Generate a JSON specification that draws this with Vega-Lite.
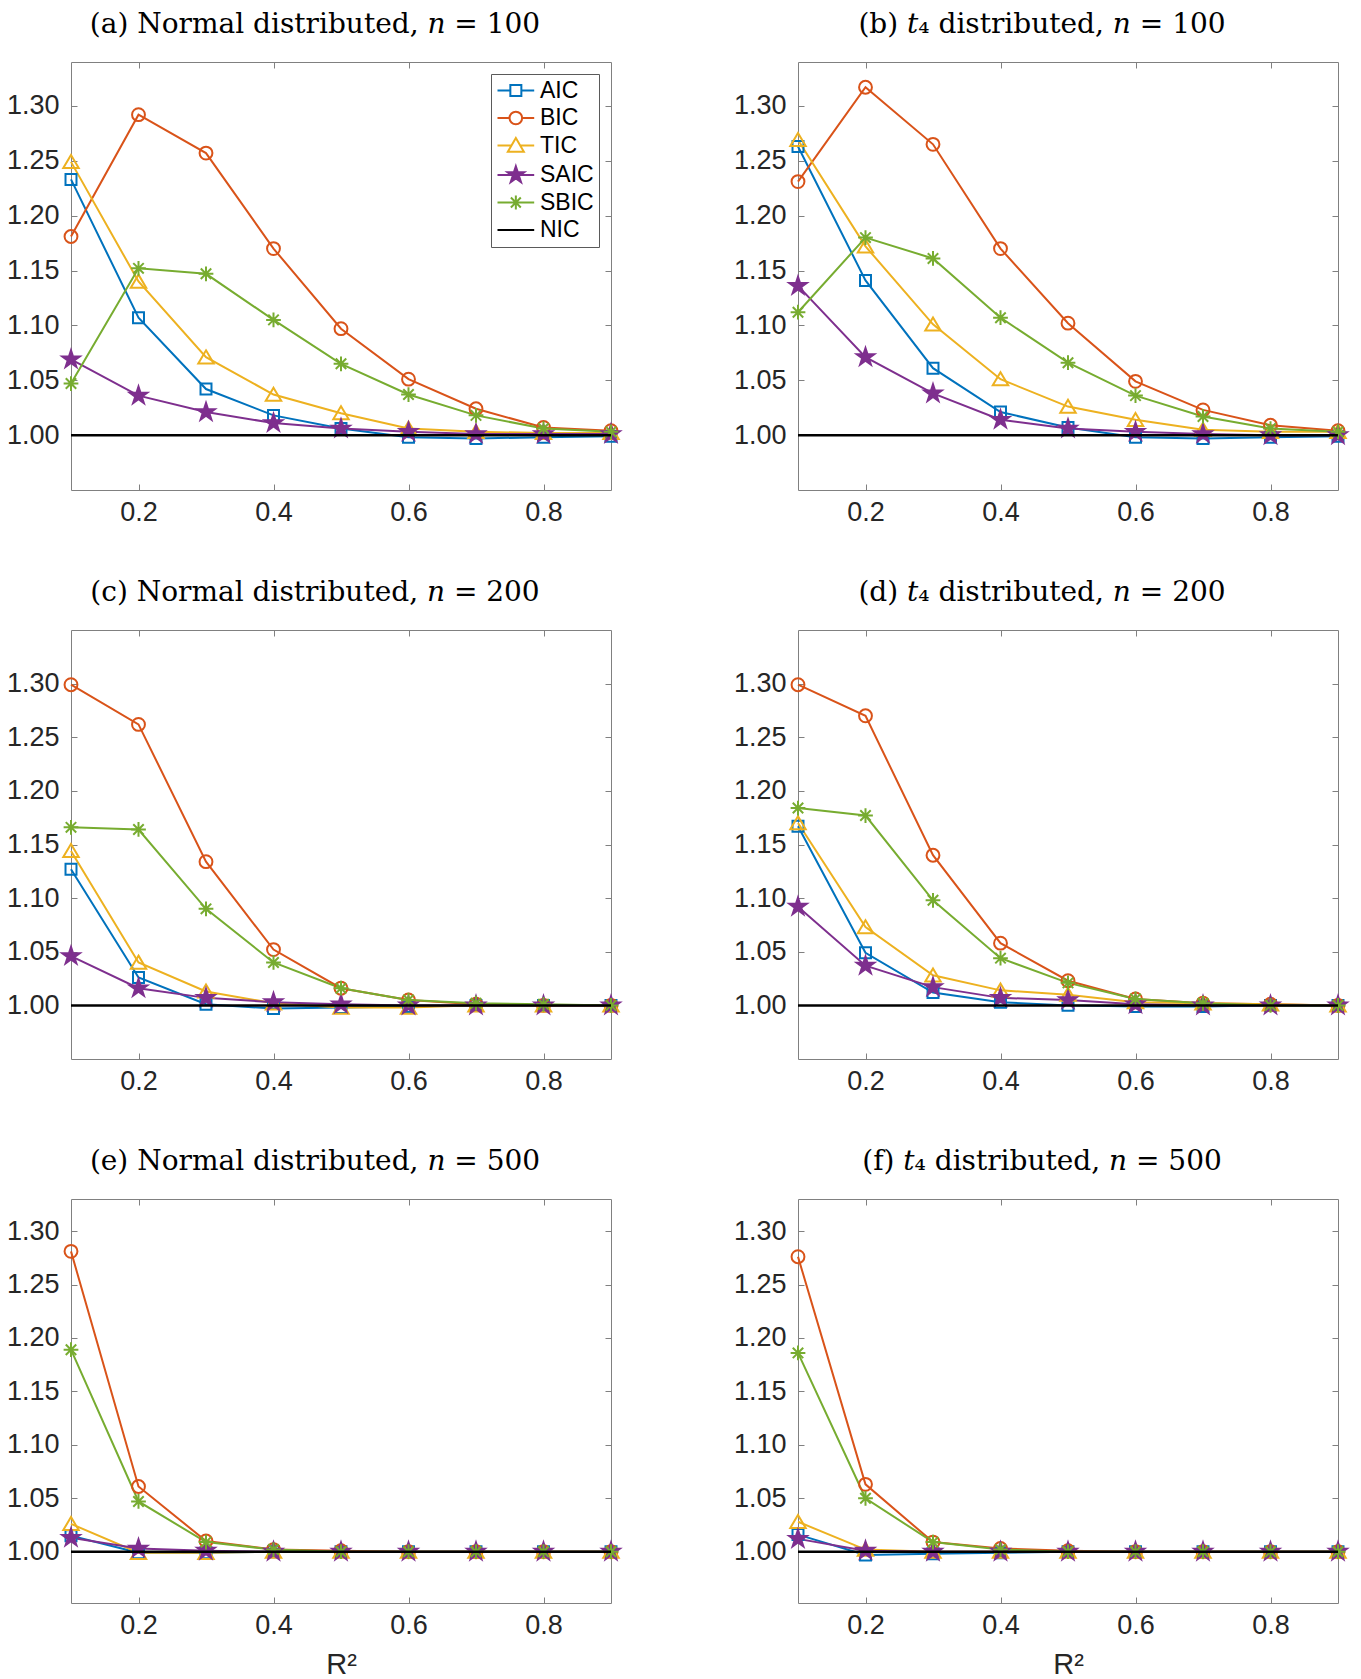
{
"$schema": "https://vega.github.io/schema/vega-lite/v6.json",
"padding": {"left": 5, "top": 10, "right": 5, "bottom": 5},
"background": "white",
"datasets": {"d": [
{"p":"a","x":0.1,"AIC":1.233,"BIC":1.181,"TIC":1.249,"SAIC":1.069,"SBIC":1.047,"NIC":1},
{"p":"a","x":0.2,"AIC":1.107,"BIC":1.292,"TIC":1.140,"SAIC":1.036,"SBIC":1.152,"NIC":1},
{"p":"a","x":0.3,"AIC":1.042,"BIC":1.257,"TIC":1.071,"SAIC":1.021,"SBIC":1.147,"NIC":1},
{"p":"a","x":0.4,"AIC":1.018,"BIC":1.170,"TIC":1.037,"SAIC":1.011,"SBIC":1.105,"NIC":1},
{"p":"a","x":0.5,"AIC":1.006,"BIC":1.097,"TIC":1.020,"SAIC":1.006,"SBIC":1.065,"NIC":1},
{"p":"a","x":0.6,"AIC":0.998,"BIC":1.051,"TIC":1.006,"SAIC":1.003,"SBIC":1.037,"NIC":1},
{"p":"a","x":0.7,"AIC":0.997,"BIC":1.024,"TIC":1.003,"SAIC":1.001,"SBIC":1.018,"NIC":1},
{"p":"a","x":0.8,"AIC":0.998,"BIC":1.007,"TIC":1.002,"SAIC":1.001,"SBIC":1.006,"NIC":1},
{"p":"a","x":0.9,"AIC":0.999,"BIC":1.004,"TIC":1.002,"SAIC":1.001,"SBIC":1.003,"NIC":1},
{"p":"b","x":0.1,"AIC":1.263,"BIC":1.231,"TIC":1.269,"SAIC":1.136,"SBIC":1.112,"NIC":1},
{"p":"b","x":0.2,"AIC":1.141,"BIC":1.317,"TIC":1.172,"SAIC":1.071,"SBIC":1.180,"NIC":1},
{"p":"b","x":0.3,"AIC":1.061,"BIC":1.265,"TIC":1.101,"SAIC":1.038,"SBIC":1.161,"NIC":1},
{"p":"b","x":0.4,"AIC":1.021,"BIC":1.170,"TIC":1.051,"SAIC":1.014,"SBIC":1.107,"NIC":1},
{"p":"b","x":0.5,"AIC":1.007,"BIC":1.102,"TIC":1.026,"SAIC":1.006,"SBIC":1.066,"NIC":1},
{"p":"b","x":0.6,"AIC":0.998,"BIC":1.049,"TIC":1.014,"SAIC":1.003,"SBIC":1.036,"NIC":1},
{"p":"b","x":0.7,"AIC":0.997,"BIC":1.023,"TIC":1.005,"SAIC":1.001,"SBIC":1.017,"NIC":1},
{"p":"b","x":0.8,"AIC":0.998,"BIC":1.009,"TIC":1.003,"SAIC":1.000,"SBIC":1.006,"NIC":1},
{"p":"b","x":0.9,"AIC":0.999,"BIC":1.004,"TIC":1.003,"SAIC":1.000,"SBIC":1.003,"NIC":1},
{"p":"c","x":0.1,"AIC":1.127,"BIC":1.299,"TIC":1.144,"SAIC":1.046,"SBIC":1.166,"NIC":1},
{"p":"c","x":0.2,"AIC":1.026,"BIC":1.262,"TIC":1.040,"SAIC":1.016,"SBIC":1.164,"NIC":1},
{"p":"c","x":0.3,"AIC":1.001,"BIC":1.134,"TIC":1.013,"SAIC":1.007,"SBIC":1.090,"NIC":1},
{"p":"c","x":0.4,"AIC":0.997,"BIC":1.052,"TIC":1.002,"SAIC":1.003,"SBIC":1.040,"NIC":1},
{"p":"c","x":0.5,"AIC":0.998,"BIC":1.016,"TIC":0.998,"SAIC":1.001,"SBIC":1.016,"NIC":1},
{"p":"c","x":0.6,"AIC":0.999,"BIC":1.005,"TIC":0.998,"SAIC":1.000,"SBIC":1.005,"NIC":1},
{"p":"c","x":0.7,"AIC":1.000,"BIC":1.001,"TIC":1.000,"SAIC":1.000,"SBIC":1.002,"NIC":1},
{"p":"c","x":0.8,"AIC":1.000,"BIC":1.000,"TIC":1.000,"SAIC":1.000,"SBIC":1.001,"NIC":1},
{"p":"c","x":0.9,"AIC":1.000,"BIC":1.000,"TIC":1.000,"SAIC":1.000,"SBIC":1.000,"NIC":1},
{"p":"d","x":0.1,"AIC":1.167,"BIC":1.299,"TIC":1.170,"SAIC":1.092,"SBIC":1.184,"NIC":1},
{"p":"d","x":0.2,"AIC":1.049,"BIC":1.270,"TIC":1.073,"SAIC":1.037,"SBIC":1.177,"NIC":1},
{"p":"d","x":0.3,"AIC":1.012,"BIC":1.140,"TIC":1.028,"SAIC":1.017,"SBIC":1.098,"NIC":1},
{"p":"d","x":0.4,"AIC":1.003,"BIC":1.058,"TIC":1.014,"SAIC":1.007,"SBIC":1.044,"NIC":1},
{"p":"d","x":0.5,"AIC":1.000,"BIC":1.023,"TIC":1.010,"SAIC":1.005,"SBIC":1.021,"NIC":1},
{"p":"d","x":0.6,"AIC":0.999,"BIC":1.006,"TIC":1.003,"SAIC":1.001,"SBIC":1.006,"NIC":1},
{"p":"d","x":0.7,"AIC":0.999,"BIC":1.002,"TIC":1.002,"SAIC":1.000,"SBIC":1.002,"NIC":1},
{"p":"d","x":0.8,"AIC":1.000,"BIC":1.001,"TIC":1.001,"SAIC":1.000,"SBIC":1.000,"NIC":1},
{"p":"d","x":0.9,"AIC":1.000,"BIC":1.000,"TIC":1.000,"SAIC":1.000,"SBIC":1.000,"NIC":1},
{"p":"e","x":0.1,"AIC":1.015,"BIC":1.281,"TIC":1.026,"SAIC":1.013,"SBIC":1.189,"NIC":1},
{"p":"e","x":0.2,"AIC":0.999,"BIC":1.061,"TIC":0.999,"SAIC":1.003,"SBIC":1.047,"NIC":1},
{"p":"e","x":0.3,"AIC":0.999,"BIC":1.010,"TIC":0.999,"SAIC":1.001,"SBIC":1.009,"NIC":1},
{"p":"e","x":0.4,"AIC":1.000,"BIC":1.002,"TIC":1.000,"SAIC":1.000,"SBIC":1.002,"NIC":1},
{"p":"e","x":0.5,"AIC":1.000,"BIC":1.001,"TIC":1.000,"SAIC":1.000,"SBIC":1.000,"NIC":1},
{"p":"e","x":0.6,"AIC":1.000,"BIC":1.000,"TIC":1.000,"SAIC":1.000,"SBIC":1.000,"NIC":1},
{"p":"e","x":0.7,"AIC":1.000,"BIC":1.000,"TIC":1.000,"SAIC":1.000,"SBIC":1.000,"NIC":1},
{"p":"e","x":0.8,"AIC":1.000,"BIC":1.000,"TIC":1.000,"SAIC":1.000,"SBIC":1.000,"NIC":1},
{"p":"e","x":0.9,"AIC":1.000,"BIC":1.000,"TIC":1.000,"SAIC":1.000,"SBIC":1.000,"NIC":1},
{"p":"f","x":0.1,"AIC":1.016,"BIC":1.276,"TIC":1.028,"SAIC":1.012,"SBIC":1.186,"NIC":1},
{"p":"f","x":0.2,"AIC":0.997,"BIC":1.063,"TIC":1.002,"SAIC":1.001,"SBIC":1.050,"NIC":1},
{"p":"f","x":0.3,"AIC":0.998,"BIC":1.009,"TIC":1.000,"SAIC":1.000,"SBIC":1.009,"NIC":1},
{"p":"f","x":0.4,"AIC":0.999,"BIC":1.003,"TIC":1.000,"SAIC":1.000,"SBIC":1.002,"NIC":1},
{"p":"f","x":0.5,"AIC":1.000,"BIC":1.001,"TIC":1.000,"SAIC":1.000,"SBIC":1.000,"NIC":1},
{"p":"f","x":0.6,"AIC":1.000,"BIC":1.000,"TIC":1.000,"SAIC":1.000,"SBIC":1.000,"NIC":1},
{"p":"f","x":0.7,"AIC":1.000,"BIC":1.000,"TIC":1.000,"SAIC":1.000,"SBIC":1.000,"NIC":1},
{"p":"f","x":0.8,"AIC":1.000,"BIC":1.000,"TIC":1.000,"SAIC":1.000,"SBIC":1.000,"NIC":1},
{"p":"f","x":0.9,"AIC":1.000,"BIC":1.000,"TIC":1.000,"SAIC":1.000,"SBIC":1.000,"NIC":1}
]},
"data": {"name": "d"},
"config": {
  "view": {"stroke": "#808080", "strokeWidth": 1},
  "axis": {"grid": false, "domain": false, "tickSize": -6, "tickColor": "#808080", "tickWidth": 1, "labelFont": "Liberation Sans", "labelFontSize": 27, "labelColor": "#262626", "labelFlush": false, "labelOverlap": false, "titleFont": "Liberation Sans", "titleFontSize": 29, "titleFontWeight": "normal", "titleColor": "#262626", "titlePadding": 12},
  "axisX": {"labelPadding": 15},
  "axisY": {"labelPadding": 18},
  "axisTop": {"labels": false},
  "axisRight": {"labels": false},
  "title": {"font": "DejaVu Serif", "fontSize": 28, "fontWeight": "normal", "color": "#000000", "offset": 23, "anchor": "middle"}
},
"spacing": 52,
"resolve": {"scale": {"x": "independent", "y": "independent", "stroke": "independent", "shape": "independent", "fill": "independent"}, "legend": {"stroke": "independent"}},
"vconcat": [
{"spacing": 107,
 "resolve": {"scale": {"x": "independent", "y": "independent", "stroke": "independent", "shape": "independent", "fill": "independent"}, "legend": {"stroke": "independent"}},
 "hconcat": [
 {"width": 540, "height": 428,
  "title": {"text": "(a) Normal distributed, 𝑛 = 100", "dx": -26},
  "transform": [{"filter": "datum.p == 'a'"}, {"fold": ["AIC","BIC","TIC","SAIC","SBIC","NIC"], "as": ["s","y"]}],
  "layer": [
   {"transform": [{"filter": "datum.s != 'NIC'"}],
    "mark": {"type": "line", "strokeWidth": 2},
    "encoding": {
     "x": {"field": "x", "type": "quantitative", "scale": {"domain": [0.1, 0.9], "nice": false, "zero": false}, "axis": {"orient": "bottom", "values": [0.2,0.4,0.6,0.8], "format": ".1f", "title": null}},
     "y": {"field": "y", "type": "quantitative", "scale": {"domain": [0.95, 1.34], "nice": false, "zero": false}, "axis": {"orient": "left", "values": [1,1.05,1.1,1.15,1.2,1.25,1.3], "format": ".2f", "title": null}},
     "stroke": {"field": "s", "type": "nominal", "scale": {"domain": ["AIC","BIC","TIC","SAIC","SBIC","NIC"], "range": ["#0072BD","#D95319","#EDB120","#7E2F8E","#77AC30","#000000"]},
      "legend": {"title": null, "orient": "top-right", "offset": 12, "labelFont": "Liberation Sans", "labelFontSize": 23, "labelColor": "#000000", "labelExpr": "datum.label + ' '", "symbolSize": 400, "symbolStrokeWidth": 2, "labelOffset": 21, "rowPadding": 3.5, "padding": 5, "strokeColor": "#5a5a5a", "fillColor": "#ffffff",
       "encode": {"symbols": {"update": {
        "shape": {"signal": "datum.value == 'AIC' ? 'M-1,0H0.285M1.385,0H2.67M0.285,-0.55H1.385V0.55H0.285Z' : datum.value == 'BIC' ? 'M-1,0H0.205M1.465,0H2.67M1.465,0A0.63,0.63 0 1,1 0.205,0A0.63,0.63 0 1,1 1.465,0Z' : datum.value == 'TIC' ? 'M-1,0H0.397M1.273,0H2.67M0.835,-0.75L1.635,0.62H0.035Z' : datum.value == 'SAIC' ? 'M-1,0H2.67M0.835,-0.88L1.033,-0.272L1.672,-0.272L1.154,0.104L1.352,0.712L0.835,0.336L0.318,0.712L0.516,0.104L-0.002,-0.272L0.637,-0.272Z' : datum.value == 'SBIC' ? 'M-1,0H2.67M0.835,-0.7V0.7M0.34,-0.495L1.33,0.495M0.34,0.495L1.33,-0.495' : 'M-1,0H2.67'"},
        "fill": {"signal": "datum.value == 'SAIC' ? '#7E2F8E' : 'transparent'"},
        "size": {"value": 400},
        "strokeWidth": {"value": 2},
        "opacity": {"value": 1}
       }}}}}
    }},
   {"transform": [{"filter": "datum.s != 'NIC'"}],
    "mark": {"type": "point", "filled": false, "opacity": 1, "strokeWidth": 2, "size": 294},
    "encoding": {
     "x": {"field": "x", "type": "quantitative", "scale": {"domain": [0.1, 0.9], "nice": false, "zero": false}, "axis": null},
     "y": {"field": "y", "type": "quantitative", "scale": {"domain": [0.95, 1.34], "nice": false, "zero": false}, "axis": null},
     "stroke": {"field": "s", "type": "nominal", "legend": null},
     "shape": {"field": "s", "type": "nominal", "scale": {"domain": ["AIC","BIC","TIC","SAIC","SBIC"], "range": ["M-0.64,-0.64H0.64V0.64H-0.64Z","M0.75,0A0.75,0.75 0 1,1 -0.75,0A0.75,0.75 0 1,1 0.75,0Z","M0,-0.8L0.9,0.72H-0.9Z","M0,-1.07L0.24,-0.331L1.018,-0.331L0.388,0.126L0.629,0.866L0,0.409L-0.629,0.866L-0.388,0.126L-1.018,-0.331L-0.24,-0.331Z","M-0.86,0H0.86M0,-0.86V0.86M-0.61,-0.61L0.61,0.61M-0.61,0.61L0.61,-0.61"]}, "legend": null},
     "fill": {"field": "s", "type": "nominal", "scale": {"domain": ["AIC","BIC","TIC","SAIC","SBIC"], "range": ["transparent","transparent","transparent","#7E2F8E","transparent"]}, "legend": null}
    }},
   {"transform": [{"filter": "datum.s == 'NIC'"}],
    "mark": {"type": "line", "strokeWidth": 2.5, "color": "#000000"},
    "encoding": {
     "x": {"field": "x", "type": "quantitative", "scale": {"domain": [0.1, 0.9], "nice": false, "zero": false}, "axis": {"orient": "top", "values": [0.2,0.4,0.6,0.8], "labels": false, "title": null}},
     "y": {"field": "y", "type": "quantitative", "scale": {"domain": [0.95, 1.34], "nice": false, "zero": false}, "axis": {"orient": "right", "values": [1,1.05,1.1,1.15,1.2,1.25,1.3], "labels": false, "title": null}}
    }}
  ]},
 {"width": 540, "height": 428,
  "title": {"text": "(b) 𝑡₄ distributed, 𝑛 = 100", "dx": -26},
  "transform": [{"filter": "datum.p == 'b'"}, {"fold": ["AIC","BIC","TIC","SAIC","SBIC","NIC"], "as": ["s","y"]}],
  "layer": [
   {"transform": [{"filter": "datum.s != 'NIC'"}],
    "mark": {"type": "line", "strokeWidth": 2},
    "encoding": {
     "x": {"field": "x", "type": "quantitative", "scale": {"domain": [0.1, 0.9], "nice": false, "zero": false}, "axis": {"orient": "bottom", "values": [0.2,0.4,0.6,0.8], "format": ".1f", "title": null}},
     "y": {"field": "y", "type": "quantitative", "scale": {"domain": [0.95, 1.34], "nice": false, "zero": false}, "axis": {"orient": "left", "values": [1,1.05,1.1,1.15,1.2,1.25,1.3], "format": ".2f", "title": null}},
     "stroke": {"field": "s", "type": "nominal", "scale": {"domain": ["AIC","BIC","TIC","SAIC","SBIC","NIC"], "range": ["#0072BD","#D95319","#EDB120","#7E2F8E","#77AC30","#000000"]}, "legend": null}
    }},
   {"transform": [{"filter": "datum.s != 'NIC'"}],
    "mark": {"type": "point", "filled": false, "opacity": 1, "strokeWidth": 2, "size": 294},
    "encoding": {
     "x": {"field": "x", "type": "quantitative", "scale": {"domain": [0.1, 0.9], "nice": false, "zero": false}, "axis": null},
     "y": {"field": "y", "type": "quantitative", "scale": {"domain": [0.95, 1.34], "nice": false, "zero": false}, "axis": null},
     "stroke": {"field": "s", "type": "nominal", "legend": null},
     "shape": {"field": "s", "type": "nominal", "scale": {"domain": ["AIC","BIC","TIC","SAIC","SBIC"], "range": ["M-0.64,-0.64H0.64V0.64H-0.64Z","M0.75,0A0.75,0.75 0 1,1 -0.75,0A0.75,0.75 0 1,1 0.75,0Z","M0,-0.8L0.9,0.72H-0.9Z","M0,-1.07L0.24,-0.331L1.018,-0.331L0.388,0.126L0.629,0.866L0,0.409L-0.629,0.866L-0.388,0.126L-1.018,-0.331L-0.24,-0.331Z","M-0.86,0H0.86M0,-0.86V0.86M-0.61,-0.61L0.61,0.61M-0.61,0.61L0.61,-0.61"]}, "legend": null},
     "fill": {"field": "s", "type": "nominal", "scale": {"domain": ["AIC","BIC","TIC","SAIC","SBIC"], "range": ["transparent","transparent","transparent","#7E2F8E","transparent"]}, "legend": null}
    }},
   {"transform": [{"filter": "datum.s == 'NIC'"}],
    "mark": {"type": "line", "strokeWidth": 2.5, "color": "#000000"},
    "encoding": {
     "x": {"field": "x", "type": "quantitative", "scale": {"domain": [0.1, 0.9], "nice": false, "zero": false}, "axis": {"orient": "top", "values": [0.2,0.4,0.6,0.8], "labels": false, "title": null}},
     "y": {"field": "y", "type": "quantitative", "scale": {"domain": [0.95, 1.34], "nice": false, "zero": false}, "axis": {"orient": "right", "values": [1,1.05,1.1,1.15,1.2,1.25,1.3], "labels": false, "title": null}}
    }}
  ]}
 ]},
{"spacing": 107,
 "resolve": {"scale": {"x": "independent", "y": "independent", "stroke": "independent", "shape": "independent", "fill": "independent"}, "legend": {"stroke": "independent"}},
 "hconcat": [
 {"width": 540, "height": 429,
  "title": {"text": "(c) Normal distributed, 𝑛 = 200", "dx": -26},
  "transform": [{"filter": "datum.p == 'c'"}, {"fold": ["AIC","BIC","TIC","SAIC","SBIC","NIC"], "as": ["s","y"]}],
  "layer": [
   {"transform": [{"filter": "datum.s != 'NIC'"}],
    "mark": {"type": "line", "strokeWidth": 2},
    "encoding": {
     "x": {"field": "x", "type": "quantitative", "scale": {"domain": [0.1, 0.9], "nice": false, "zero": false}, "axis": {"orient": "bottom", "values": [0.2,0.4,0.6,0.8], "format": ".1f", "title": null}},
     "y": {"field": "y", "type": "quantitative", "scale": {"domain": [0.95, 1.35], "nice": false, "zero": false}, "axis": {"orient": "left", "values": [1,1.05,1.1,1.15,1.2,1.25,1.3], "format": ".2f", "title": null}},
     "stroke": {"field": "s", "type": "nominal", "scale": {"domain": ["AIC","BIC","TIC","SAIC","SBIC","NIC"], "range": ["#0072BD","#D95319","#EDB120","#7E2F8E","#77AC30","#000000"]}, "legend": null}
    }},
   {"transform": [{"filter": "datum.s != 'NIC'"}],
    "mark": {"type": "point", "filled": false, "opacity": 1, "strokeWidth": 2, "size": 294},
    "encoding": {
     "x": {"field": "x", "type": "quantitative", "scale": {"domain": [0.1, 0.9], "nice": false, "zero": false}, "axis": null},
     "y": {"field": "y", "type": "quantitative", "scale": {"domain": [0.95, 1.35], "nice": false, "zero": false}, "axis": null},
     "stroke": {"field": "s", "type": "nominal", "legend": null},
     "shape": {"field": "s", "type": "nominal", "scale": {"domain": ["AIC","BIC","TIC","SAIC","SBIC"], "range": ["M-0.64,-0.64H0.64V0.64H-0.64Z","M0.75,0A0.75,0.75 0 1,1 -0.75,0A0.75,0.75 0 1,1 0.75,0Z","M0,-0.8L0.9,0.72H-0.9Z","M0,-1.07L0.24,-0.331L1.018,-0.331L0.388,0.126L0.629,0.866L0,0.409L-0.629,0.866L-0.388,0.126L-1.018,-0.331L-0.24,-0.331Z","M-0.86,0H0.86M0,-0.86V0.86M-0.61,-0.61L0.61,0.61M-0.61,0.61L0.61,-0.61"]}, "legend": null},
     "fill": {"field": "s", "type": "nominal", "scale": {"domain": ["AIC","BIC","TIC","SAIC","SBIC"], "range": ["transparent","transparent","transparent","#7E2F8E","transparent"]}, "legend": null}
    }},
   {"transform": [{"filter": "datum.s == 'NIC'"}],
    "mark": {"type": "line", "strokeWidth": 2.5, "color": "#000000"},
    "encoding": {
     "x": {"field": "x", "type": "quantitative", "scale": {"domain": [0.1, 0.9], "nice": false, "zero": false}, "axis": {"orient": "top", "values": [0.2,0.4,0.6,0.8], "labels": false, "title": null}},
     "y": {"field": "y", "type": "quantitative", "scale": {"domain": [0.95, 1.35], "nice": false, "zero": false}, "axis": {"orient": "right", "values": [1,1.05,1.1,1.15,1.2,1.25,1.3], "labels": false, "title": null}}
    }}
  ]},
 {"width": 540, "height": 429,
  "title": {"text": "(d) 𝑡₄ distributed, 𝑛 = 200", "dx": -26},
  "transform": [{"filter": "datum.p == 'd'"}, {"fold": ["AIC","BIC","TIC","SAIC","SBIC","NIC"], "as": ["s","y"]}],
  "layer": [
   {"transform": [{"filter": "datum.s != 'NIC'"}],
    "mark": {"type": "line", "strokeWidth": 2},
    "encoding": {
     "x": {"field": "x", "type": "quantitative", "scale": {"domain": [0.1, 0.9], "nice": false, "zero": false}, "axis": {"orient": "bottom", "values": [0.2,0.4,0.6,0.8], "format": ".1f", "title": null}},
     "y": {"field": "y", "type": "quantitative", "scale": {"domain": [0.95, 1.35], "nice": false, "zero": false}, "axis": {"orient": "left", "values": [1,1.05,1.1,1.15,1.2,1.25,1.3], "format": ".2f", "title": null}},
     "stroke": {"field": "s", "type": "nominal", "scale": {"domain": ["AIC","BIC","TIC","SAIC","SBIC","NIC"], "range": ["#0072BD","#D95319","#EDB120","#7E2F8E","#77AC30","#000000"]}, "legend": null}
    }},
   {"transform": [{"filter": "datum.s != 'NIC'"}],
    "mark": {"type": "point", "filled": false, "opacity": 1, "strokeWidth": 2, "size": 294},
    "encoding": {
     "x": {"field": "x", "type": "quantitative", "scale": {"domain": [0.1, 0.9], "nice": false, "zero": false}, "axis": null},
     "y": {"field": "y", "type": "quantitative", "scale": {"domain": [0.95, 1.35], "nice": false, "zero": false}, "axis": null},
     "stroke": {"field": "s", "type": "nominal", "legend": null},
     "shape": {"field": "s", "type": "nominal", "scale": {"domain": ["AIC","BIC","TIC","SAIC","SBIC"], "range": ["M-0.64,-0.64H0.64V0.64H-0.64Z","M0.75,0A0.75,0.75 0 1,1 -0.75,0A0.75,0.75 0 1,1 0.75,0Z","M0,-0.8L0.9,0.72H-0.9Z","M0,-1.07L0.24,-0.331L1.018,-0.331L0.388,0.126L0.629,0.866L0,0.409L-0.629,0.866L-0.388,0.126L-1.018,-0.331L-0.24,-0.331Z","M-0.86,0H0.86M0,-0.86V0.86M-0.61,-0.61L0.61,0.61M-0.61,0.61L0.61,-0.61"]}, "legend": null},
     "fill": {"field": "s", "type": "nominal", "scale": {"domain": ["AIC","BIC","TIC","SAIC","SBIC"], "range": ["transparent","transparent","transparent","#7E2F8E","transparent"]}, "legend": null}
    }},
   {"transform": [{"filter": "datum.s == 'NIC'"}],
    "mark": {"type": "line", "strokeWidth": 2.5, "color": "#000000"},
    "encoding": {
     "x": {"field": "x", "type": "quantitative", "scale": {"domain": [0.1, 0.9], "nice": false, "zero": false}, "axis": {"orient": "top", "values": [0.2,0.4,0.6,0.8], "labels": false, "title": null}},
     "y": {"field": "y", "type": "quantitative", "scale": {"domain": [0.95, 1.35], "nice": false, "zero": false}, "axis": {"orient": "right", "values": [1,1.05,1.1,1.15,1.2,1.25,1.3], "labels": false, "title": null}}
    }}
  ]}
 ]},
{"spacing": 107,
 "resolve": {"scale": {"x": "independent", "y": "independent", "stroke": "independent", "shape": "independent", "fill": "independent"}, "legend": {"stroke": "independent"}},
 "hconcat": [
 {"width": 540, "height": 404,
  "title": {"text": "(e) Normal distributed, 𝑛 = 500", "dx": -26},
  "transform": [{"filter": "datum.p == 'e'"}, {"fold": ["AIC","BIC","TIC","SAIC","SBIC","NIC"], "as": ["s","y"]}],
  "layer": [
   {"transform": [{"filter": "datum.s != 'NIC'"}],
    "mark": {"type": "line", "strokeWidth": 2},
    "encoding": {
     "x": {"field": "x", "type": "quantitative", "scale": {"domain": [0.1, 0.9], "nice": false, "zero": false}, "axis": {"orient": "bottom", "values": [0.2,0.4,0.6,0.8], "format": ".1f", "title": "R²"}},
     "y": {"field": "y", "type": "quantitative", "scale": {"domain": [0.952, 1.33], "nice": false, "zero": false}, "axis": {"orient": "left", "values": [1,1.05,1.1,1.15,1.2,1.25,1.3], "format": ".2f", "title": null}},
     "stroke": {"field": "s", "type": "nominal", "scale": {"domain": ["AIC","BIC","TIC","SAIC","SBIC","NIC"], "range": ["#0072BD","#D95319","#EDB120","#7E2F8E","#77AC30","#000000"]}, "legend": null}
    }},
   {"transform": [{"filter": "datum.s != 'NIC'"}],
    "mark": {"type": "point", "filled": false, "opacity": 1, "strokeWidth": 2, "size": 294},
    "encoding": {
     "x": {"field": "x", "type": "quantitative", "scale": {"domain": [0.1, 0.9], "nice": false, "zero": false}, "axis": null},
     "y": {"field": "y", "type": "quantitative", "scale": {"domain": [0.952, 1.33], "nice": false, "zero": false}, "axis": null},
     "stroke": {"field": "s", "type": "nominal", "legend": null},
     "shape": {"field": "s", "type": "nominal", "scale": {"domain": ["AIC","BIC","TIC","SAIC","SBIC"], "range": ["M-0.64,-0.64H0.64V0.64H-0.64Z","M0.75,0A0.75,0.75 0 1,1 -0.75,0A0.75,0.75 0 1,1 0.75,0Z","M0,-0.8L0.9,0.72H-0.9Z","M0,-1.07L0.24,-0.331L1.018,-0.331L0.388,0.126L0.629,0.866L0,0.409L-0.629,0.866L-0.388,0.126L-1.018,-0.331L-0.24,-0.331Z","M-0.86,0H0.86M0,-0.86V0.86M-0.61,-0.61L0.61,0.61M-0.61,0.61L0.61,-0.61"]}, "legend": null},
     "fill": {"field": "s", "type": "nominal", "scale": {"domain": ["AIC","BIC","TIC","SAIC","SBIC"], "range": ["transparent","transparent","transparent","#7E2F8E","transparent"]}, "legend": null}
    }},
   {"transform": [{"filter": "datum.s == 'NIC'"}],
    "mark": {"type": "line", "strokeWidth": 2.5, "color": "#000000"},
    "encoding": {
     "x": {"field": "x", "type": "quantitative", "scale": {"domain": [0.1, 0.9], "nice": false, "zero": false}, "axis": {"orient": "top", "values": [0.2,0.4,0.6,0.8], "labels": false, "title": null}},
     "y": {"field": "y", "type": "quantitative", "scale": {"domain": [0.952, 1.33], "nice": false, "zero": false}, "axis": {"orient": "right", "values": [1,1.05,1.1,1.15,1.2,1.25,1.3], "labels": false, "title": null}}
    }}
  ]},
 {"width": 540, "height": 404,
  "title": {"text": "(f) 𝑡₄ distributed, 𝑛 = 500", "dx": -26},
  "transform": [{"filter": "datum.p == 'f'"}, {"fold": ["AIC","BIC","TIC","SAIC","SBIC","NIC"], "as": ["s","y"]}],
  "layer": [
   {"transform": [{"filter": "datum.s != 'NIC'"}],
    "mark": {"type": "line", "strokeWidth": 2},
    "encoding": {
     "x": {"field": "x", "type": "quantitative", "scale": {"domain": [0.1, 0.9], "nice": false, "zero": false}, "axis": {"orient": "bottom", "values": [0.2,0.4,0.6,0.8], "format": ".1f", "title": "R²"}},
     "y": {"field": "y", "type": "quantitative", "scale": {"domain": [0.952, 1.33], "nice": false, "zero": false}, "axis": {"orient": "left", "values": [1,1.05,1.1,1.15,1.2,1.25,1.3], "format": ".2f", "title": null}},
     "stroke": {"field": "s", "type": "nominal", "scale": {"domain": ["AIC","BIC","TIC","SAIC","SBIC","NIC"], "range": ["#0072BD","#D95319","#EDB120","#7E2F8E","#77AC30","#000000"]}, "legend": null}
    }},
   {"transform": [{"filter": "datum.s != 'NIC'"}],
    "mark": {"type": "point", "filled": false, "opacity": 1, "strokeWidth": 2, "size": 294},
    "encoding": {
     "x": {"field": "x", "type": "quantitative", "scale": {"domain": [0.1, 0.9], "nice": false, "zero": false}, "axis": null},
     "y": {"field": "y", "type": "quantitative", "scale": {"domain": [0.952, 1.33], "nice": false, "zero": false}, "axis": null},
     "stroke": {"field": "s", "type": "nominal", "legend": null},
     "shape": {"field": "s", "type": "nominal", "scale": {"domain": ["AIC","BIC","TIC","SAIC","SBIC"], "range": ["M-0.64,-0.64H0.64V0.64H-0.64Z","M0.75,0A0.75,0.75 0 1,1 -0.75,0A0.75,0.75 0 1,1 0.75,0Z","M0,-0.8L0.9,0.72H-0.9Z","M0,-1.07L0.24,-0.331L1.018,-0.331L0.388,0.126L0.629,0.866L0,0.409L-0.629,0.866L-0.388,0.126L-1.018,-0.331L-0.24,-0.331Z","M-0.86,0H0.86M0,-0.86V0.86M-0.61,-0.61L0.61,0.61M-0.61,0.61L0.61,-0.61"]}, "legend": null},
     "fill": {"field": "s", "type": "nominal", "scale": {"domain": ["AIC","BIC","TIC","SAIC","SBIC"], "range": ["transparent","transparent","transparent","#7E2F8E","transparent"]}, "legend": null}
    }},
   {"transform": [{"filter": "datum.s == 'NIC'"}],
    "mark": {"type": "line", "strokeWidth": 2.5, "color": "#000000"},
    "encoding": {
     "x": {"field": "x", "type": "quantitative", "scale": {"domain": [0.1, 0.9], "nice": false, "zero": false}, "axis": {"orient": "top", "values": [0.2,0.4,0.6,0.8], "labels": false, "title": null}},
     "y": {"field": "y", "type": "quantitative", "scale": {"domain": [0.952, 1.33], "nice": false, "zero": false}, "axis": {"orient": "right", "values": [1,1.05,1.1,1.15,1.2,1.25,1.3], "labels": false, "title": null}}
    }}
  ]}
 ]}
]
}
